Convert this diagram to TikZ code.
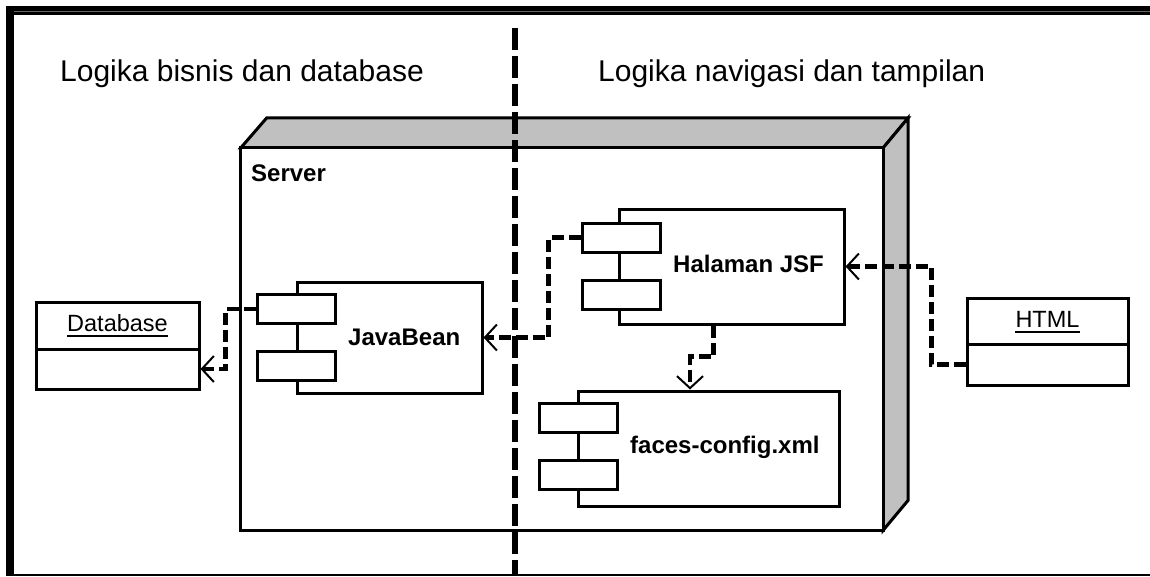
\documentclass[tikz,border=0pt]{standalone}
\usepackage{fontspec}
\setmainfont{Liberation Sans}
\usetikzlibrary{arrows.meta,calc}

\tikzset{
  boxline/.style={draw=black, line width=3pt},
  mainrect/.style={boxline, fill=white, inner sep=0pt},
  portrect/.style={boxline, fill=white, inner sep=0pt, minimum width=78pt, minimum height=29pt},
  classpart/.style={boxline, fill=white, inner sep=0pt},
  title/.style={font=\fontsize{30pt}{35pt}\selectfont, inner sep=0pt},
  complabel/.style={font=\fontsize{24pt}{28pt}\selectfont\bfseries, inner sep=0pt},
  classlabel/.style={font=\fontsize{23.5pt}{28pt}\selectfont, inner sep=0pt},
  dep/.style={line width=4.5pt, dash pattern=on 12pt off 5pt,
    -{Straight Barb[length=12pt, width=26pt, line width=2pt]}},
}

\begin{document}
\begin{tikzpicture}[x=1pt, y=-1pt]
\useasboundingbox (0,0) rectangle (1150,576);
\fill[white] (0,0) rectangle (1150,576);

% outer frame
\fill[black] (6,6) rectangle (1150,15);
\draw[black!60, line width=0.8pt] (10,11) -- (1150,11);
\fill[black] (6,6) rectangle (14,576);
\fill[black] (6,574) rectangle (1150,576);

% titles of the two layers
\node[title, anchor=base west] (tleft) at (60,81) {Logika bisnis dan database};
\node[title, anchor=base west] (tright) at (598,81) {Logika navigasi dan tampilan};

% server node (3D box)
\node[inner sep=0pt, minimum width=642pt, minimum height=382pt] (server) at (562,339) {};
\filldraw[fill={rgb,255:red,192;green,192;blue,192}, boxline, line join=miter]
  (server.north west) -- ++(26,-30) -- ($(server.north east)+(25,-30)$)
  -- (server.north east) -- cycle;
\filldraw[fill={rgb,255:red,192;green,192;blue,192}, boxline, line join=miter]
  (server.north east) -- ++(25,-30) -- ($(server.south east)+(25,-30)$)
  -- (server.south east) -- cycle;
\draw[boxline, fill=white] (server.north west) rectangle (server.south east);
\node[complabel, anchor=base west] (serverlabel) at (251,181) {Server};

% dividing line between the layers
\coordinate (divtop) at (515,28);
\coordinate (divbot) at (515,576);
\draw[line width=6pt, dash pattern=on 22pt off 6pt] (divtop) -- (divbot);

% component JavaBean
\node[mainrect, minimum width=185pt, minimum height=111pt] (jb) at (389.5,337.5) {};
\node[portrect] (jb1) at (296,309) {};
\node[portrect] (jb2) at (296,366) {};
\node[complabel, anchor=base west] (jblabel) at (348,345) {JavaBean};

% component Halaman JSF
\node[mainrect, minimum width=225pt, minimum height=115pt] (jsf) at (731.5,266.5) {};
\node[portrect] (jsf1) at (621,237.5) {};
\node[portrect] (jsf2) at (621,294.5) {};
\node[complabel, anchor=base west] (jsflabel) at (673,272) {Halaman JSF};

% component faces-config.xml
\node[mainrect, minimum width=261pt, minimum height=115pt] (faces) at (708.5,448.5) {};
\node[portrect] (faces1) at (578,417.5) {};
\node[portrect] (faces2) at (578,475) {};
\node[complabel, anchor=base west] (faceslabel) at (630,453) {faces-config.xml};

% object Database
\node[classpart, minimum width=163pt, minimum height=47pt] (dbhead) at (117.5,325.5) {};
\node[classpart, minimum width=163pt, minimum height=40pt] (dbbody) at (117.5,369) {};
\node[classlabel] (dbtext) at (117.5,323) {Database};
\draw[line width=2pt] ($(dbtext.base west)+(0,5)$) -- ($(dbtext.base east)+(0,5)$);

% object HTML
\node[classpart, minimum width=161pt, minimum height=46pt] (htmlhead) at (1047.5,321) {};
\node[classpart, minimum width=161pt, minimum height=41pt] (htmlbody) at (1047.5,364.5) {};
\node[classlabel] (htmltext) at (1047.5,319) {HTML};
\draw[line width=2pt] ($(htmltext.base west)+(0,5)$) -- ($(htmltext.base east)+(0,5)$);

% dependencies
\draw[dep] (jb1.west) -- ++(-30,0) |- (dbbody.east);
\draw[dep] (jsf1.west) -- ++(-32,0) |- (jb.east);
\draw[dep] (htmlbody.west) -- ++(-34,0) |- (jsf.east);
\coordinate (jsfout) at ($(jsf.south)+(-18,0)$);
\coordinate (facesin) at ($(faces.north)+(-18.5,0)$);
\draw[dep] (jsfout) -- ++(0,31) -| (facesin);
\end{tikzpicture}
\end{document}
